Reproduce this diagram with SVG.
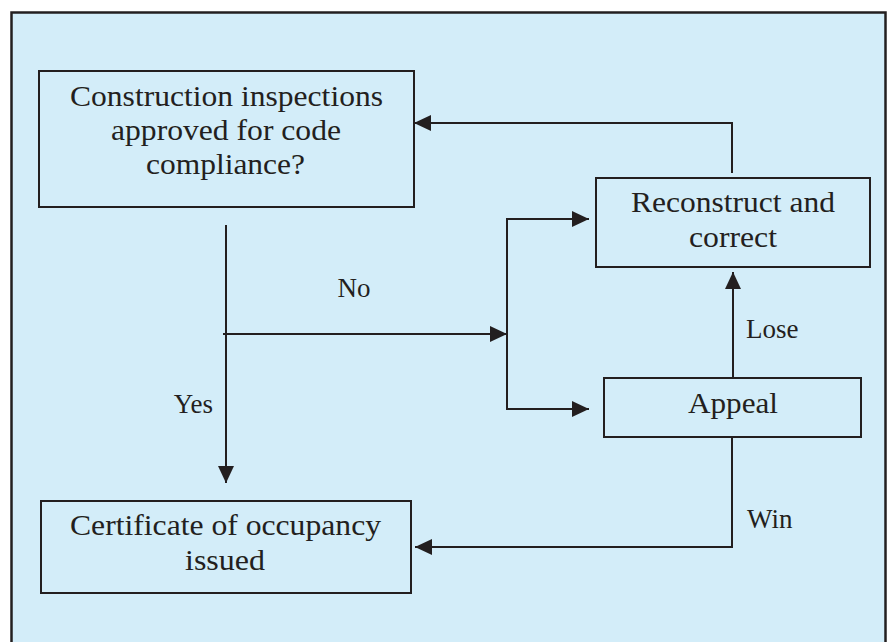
<svg xmlns="http://www.w3.org/2000/svg" width="890" height="642" viewBox="0 0 890 642">
<defs>
<style>
.frame{fill:#d3edf9;stroke:#231f20;stroke-width:2.5}
.box{fill:none;stroke:#231f20;stroke-width:2}
.t{font-family:"Liberation Serif","Times New Roman",serif;font-size:30px;fill:#231f20;text-anchor:middle}
.lbl{font-family:"Liberation Serif","Times New Roman",serif;font-size:27px;fill:#231f20}
.c{fill:none;stroke:#231f20;stroke-width:2;marker-end:url(#ah)}
.cn{fill:none;stroke:#231f20;stroke-width:2}
</style>
<marker id="ah" markerUnits="userSpaceOnUse" markerWidth="17" markerHeight="16" refX="17" refY="8" orient="auto" viewBox="0 0 17 16">
<path d="M0,0 L17,8 L0,16 Z" fill="#231f20"/>
</marker>
</defs>
<rect width="890" height="642" fill="#ffffff"/>
<rect class="frame" x="11.5" y="12.5" width="874" height="650"/>

<g id="connectors">
<path class="c" d="M732,173 V123 H414"/>
<path class="c" d="M226,225 V483"/>
<path class="c" d="M223,334 H507"/>
<path class="c" d="M507,334 V219 H589"/>
<path class="c" d="M507,334 V409 H589"/>
<path class="c" d="M733,378 V272"/>
<path class="c" d="M732,437 V547 H415"/>
</g>

<g id="labels">
<text class="lbl" x="354" y="297" text-anchor="middle">No</text>
<text class="lbl" x="213" y="413" text-anchor="end">Yes</text>
<text class="lbl" x="746" y="338">Lose</text>
<text class="lbl" x="747" y="528">Win</text>
</g>

<g id="inspections">
<rect class="box" x="39" y="71" width="375" height="136"/>
<text class="t" x="226.5" y="106" textLength="313" lengthAdjust="spacingAndGlyphs">Construction inspections</text>
<text class="t" x="226" y="140" textLength="230" lengthAdjust="spacingAndGlyphs">approved for code</text>
<text class="t" x="225.5" y="174" textLength="159" lengthAdjust="spacingAndGlyphs">compliance?</text>
</g>

<g id="reconstruct">
<rect class="box" x="596" y="178" width="274" height="89"/>
<text class="t" x="733" y="212" textLength="204" lengthAdjust="spacingAndGlyphs">Reconstruct and</text>
<text class="t" x="733" y="247" textLength="88" lengthAdjust="spacingAndGlyphs">correct</text>
</g>

<g id="appeal">
<rect class="box" x="604" y="378" width="257" height="59"/>
<text class="t" x="733" y="413" textLength="90" lengthAdjust="spacingAndGlyphs">Appeal</text>
</g>

<g id="certificate">
<rect class="box" x="41" y="501" width="370" height="92"/>
<text class="t" x="225.5" y="535" textLength="311" lengthAdjust="spacingAndGlyphs">Certificate of occupancy</text>
<text class="t" x="225" y="570" textLength="80" lengthAdjust="spacingAndGlyphs">issued</text>
</g>
</svg>
